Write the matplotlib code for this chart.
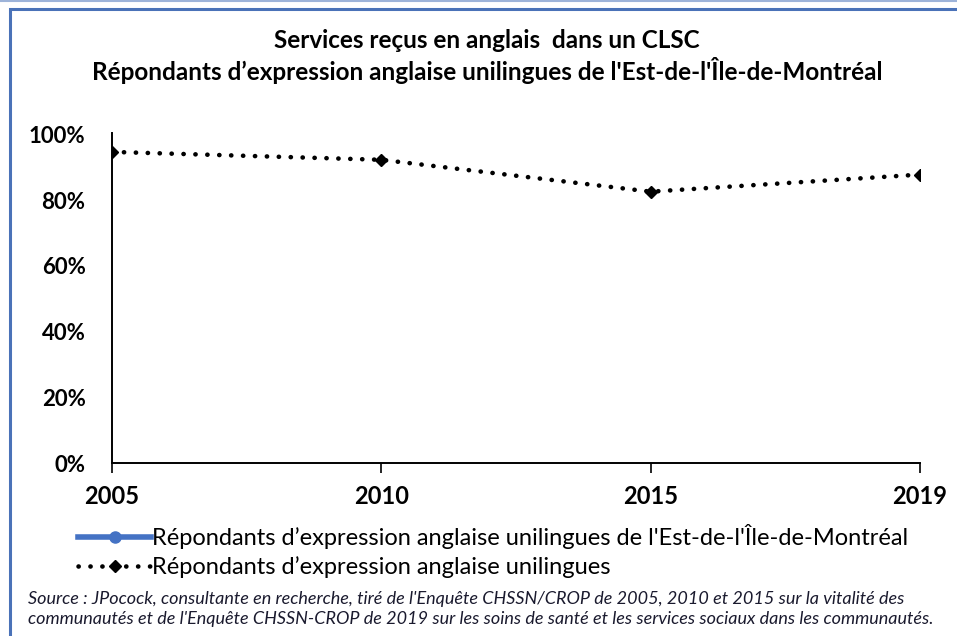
import numpy as np
import matplotlib
matplotlib.use("Agg")
import matplotlib.pyplot as plt
from matplotlib.patches import Rectangle
from matplotlib.lines import Line2D

plt.rcParams['font.family'] = ['Lato', 'DejaVu Sans']

title_lines = ["Services reçus en anglais  dans un CLSC",
               "Répondants d’expression anglaise unilingues de l'Est-de-l'Île-de-Montréal"]
years = ["2005", "2010", "2015", "2019"]
series_est = [np.nan, np.nan, np.nan, np.nan]   # no visible data
series_unil = [0.947, 0.923, 0.826, 0.878]
label_est = "Répondants d’expression anglaise unilingues de l'Est-de-l'Île-de-Montréal"
label_unil = "Répondants d’expression anglaise unilingues"
yticks = [0, 0.2, 0.4, 0.6, 0.8, 1.0]
ytick_labels = ["0%", "20%", "40%", "60%", "80%", "100%"]
source_text = ("Source : JPocock, consultante en recherche, tiré de l'Enquête CHSSN/CROP de 2005, 2010 et 2015 sur la vitalité des\n"
               "communautés et de l'Enquête CHSSN-CROP de 2019 sur les soins de santé et les services sociaux dans les communautés.")

W, H = 957, 636
fig = plt.figure(figsize=(W/100, H/100), dpi=100)

# frame
fig.add_artist(Line2D([0, 1], [1 - 1/H, 1 - 1/H], color="#9db3d9", lw=1.5, transform=fig.transFigure))
fig.add_artist(Rectangle((10/W, -0.05), 1.1, (H - 9)/H + 0.05, fill=False,
                         edgecolor="#4a72b8", lw=2.2, transform=fig.transFigure))

ax = fig.add_axes([112/W, 1 - 463/H, (920 - 112)/W, (463 - 134.5)/H])
x = np.arange(len(years))
ax.plot(x, series_est, color="#4472c4", lw=4, marker="o", ms=8, label=label_est)
ax.plot(x, series_unil, color="black", lw=3.3, linestyle=(0, (0.05, 2.55)),
        dash_capstyle="round", marker="D", ms=6.5, label=label_unil)

ax.set_xlim(0, len(years) - 1)
ax.set_ylim(0, 1)
ax.set_xticks(x)
ax.set_xticklabels(years, fontsize=17, fontweight="bold")
ax.set_yticks(yticks)
ax.set_yticklabels(ytick_labels, fontsize=16, fontweight="bold")
ax.tick_params(axis="x", direction="out", length=7, width=1.2, pad=9)
ax.tick_params(axis="y", length=0, pad=19)
for s in ["top", "right"]:
    ax.spines[s].set_visible(False)
ax.spines["left"].set_linewidth(1.4)
ax.spines["bottom"].set_linewidth(1.4)
ax.spines["left"].set_bounds(0, 1.005)

fig.text(487/W, 1 - 40/H, title_lines[0], ha="center", va="center", fontsize=17.5, fontweight="bold")
fig.text(487/W, 1 - 70/H, title_lines[1], ha="center", va="center", fontsize=17.5, fontweight="bold")

leg = fig.legend(loc="upper left", bbox_to_anchor=(78/W, 1 - 524/H), frameon=False,
                 fontsize=17, handlelength=3.1, handletextpad=0.05, labelspacing=0.3,
                 borderaxespad=0, borderpad=0)

fig.text(28/W, 1 - 609/H, source_text, ha="left", va="center", fontsize=13,
         style="italic", color="#1a1a2e", linespacing=1.25)

fig.savefig("out.png", dpi=100)
